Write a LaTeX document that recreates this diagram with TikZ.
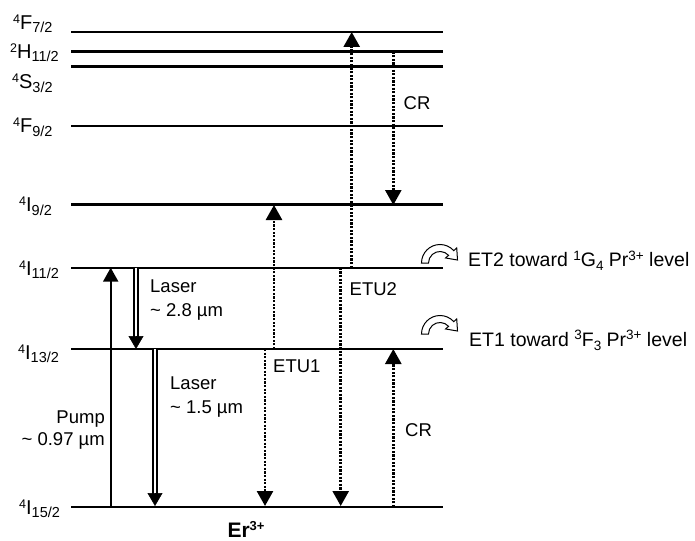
\documentclass[tikz,border=0pt]{standalone}
\usepackage{fontspec}
\setmainfont{Liberation Sans}
\usetikzlibrary{arrows.meta,calc}
\newcommand{\lvl}[3]{{\fontsize{20}{24}\selectfont\raisebox{6pt}{\fontsize{12.5}{12}\selectfont #1}#2\raisebox{-3.5pt}{\fontsize{14.5}{14}\selectfont #3}}}
\newcommand{\mysup}[1]{\raisebox{6.5pt}{\fontsize{13.5}{13}\selectfont #1}}
\newcommand{\mysub}[1]{\raisebox{-4pt}{\fontsize{13.5}{13}\selectfont #1}}
\begin{document}
\begin{tikzpicture}[x=1pt,y=-1pt,
  every node/.style={font=\fontsize{18.5}{22}\selectfont, inner sep=0pt},
  lvline/.style={line width=2.4pt},
  solidarr/.style={line width=2.2pt, -{Triangle[length=14pt,width=15pt]}},
  dotarr/.style={line width=2.6pt, dash pattern=on 2.2pt off 1.4pt, -{Triangle[length=15pt,width=16pt]}},
  dblshaft/.style={line width=1.5pt, double, double distance=2.2pt, shorten >=11pt},
  dbltip/.style={line width=0.5pt, -{Triangle[length=13pt,width=15pt]}},
  lvlabel/.style={anchor=base west},
  txt/.style={anchor=base west},
  ettxt/.style={anchor=base west, font=\fontsize{19.5}{22}\selectfont},
  hollowarc/.pic={
    \draw[line width=1pt, fill=white, line join=miter]
      (180:18.5) arc[start angle=180, end angle=318, radius=18.5]
      -- (318:22.5) -- ($(318:15)+(48:9.5)$) -- (318:7.5) -- (318:11.5)
      arc[start angle=318, end angle=180, radius=11.5] -- cycle;
  }]
\useasboundingbox (0,0) rectangle (695,540);

% levels
\foreach \n/\y in {F72/32, H112/51.7, S32/66.7, F92/126, I92/204.5, I112/267.7, I132/349, I152/507}{
  \coordinate (\n l) at (71,\y);
  \coordinate (\n r) at (443,\y);
  \draw[lvline] (\n l) -- (\n r);
}

% level labels
\node[lvlabel] (lF72) at (13,29.3) {\lvl{4}{F}{7/2}};
\node[lvlabel] (lH112) at (10,58.3) {\lvl{2}{H}{11/2}};
\node[lvlabel] (lS32) at (12,89) {\lvl{4}{S}{3/2}};
\node[lvlabel] (lF92) at (13,133) {\lvl{4}{F}{9/2}};
\node[lvlabel] (lI92) at (19,211.5) {\lvl{4}{I}{9/2}};
\node[lvlabel] (lI112) at (19,275) {\lvl{4}{I}{11/2}};
\node[lvlabel] (lI132) at (18,359) {\lvl{4}{I}{13/2}};
\node[lvlabel] (lI152) at (19,514) {\lvl{4}{I}{15/2}};

% arrow end points
\coordinate (pumpS) at (110.7,507);
\coordinate (pumpE) at (110.7,267.7);
\coordinate (las1S) at (136,267.7);
\coordinate (las1E) at (136,349);
\coordinate (las2S) at (155,349);
\coordinate (las2E) at (155,506);
\coordinate (etu1uS) at (274,349);
\coordinate (etu1uE) at (274,205);
\coordinate (etu1dS) at (265,349);
\coordinate (etu1dE) at (265,506);
\coordinate (etu2uS) at (351.7,267.7);
\coordinate (etu2uE) at (351.7,32);
\coordinate (etu2dS) at (340.7,267.7);
\coordinate (etu2dE) at (340.7,506);
\coordinate (cr1S) at (393.3,51.7);
\coordinate (cr1E) at (393.3,205);
\coordinate (cr2S) at (393.3,507);
\coordinate (cr2E) at (393.3,349);

% pump
\draw[solidarr] (pumpS) -- (pumpE);
% lasers (double shafts)
\draw[dblshaft] (las1S) -- (las1E);
\draw[dbltip] ($(las1E)+(0,-13)$) -- (las1E);
\draw[dblshaft] (las2S) -- (las2E);
\draw[dbltip] ($(las2E)+(0,-13)$) -- (las2E);
% dotted transitions
\draw[dotarr] (etu1uS) -- (etu1uE);
\draw[dotarr] (etu1dS) -- (etu1dE);
\draw[dotarr] (etu2uS) -- (etu2uE);
\draw[dotarr] (etu2dS) -- (etu2dE);
\draw[dotarr] (cr1S) -- (cr1E);
\draw[dotarr] (cr2S) -- (cr2E);

% texts
\node[txt] (laser1a) at (150,292.7) {Laser};
\node[txt] (laser1b) at (150,316.2) {\textasciitilde{} 2.8 µm};
\node[txt] (laser2a) at (170,389.5) {Laser};
\node[txt] (laser2b) at (170,413) {\textasciitilde{} 1.5 µm};
\node[anchor=base east] (pumpa) at (105,423) {Pump};
\node[anchor=base east] (pumpb) at (105,445.5) {\textasciitilde{} 0.97 µm};
\node[txt] (etu1) at (273,372.5) {ETU1};
\node[txt] (etu2) at (349.5,295) {ETU2};
\node[txt] (cr1) at (403.5,110) {CR};
\node[txt] (cr2) at (405,436) {CR};
\node[anchor=base, font=\fontsize{21}{24}\selectfont\bfseries] (er) at (246,537) {Er\raisebox{7pt}{\fontsize{13}{13}\selectfont\bfseries 3+}};

% energy transfer arrows and labels
\pic at (440,263) {hollowarc};
\pic at (440,334) {hollowarc};
\node[ettxt] (et2) at (468,266.7) {ET2 toward \mysup{1}G\mysub{4} Pr\mysup{3+} level};
\node[ettxt] (et1) at (469,346) {ET1 toward \mysup{3}F\mysub{3} Pr\mysup{3+} level};
\end{tikzpicture}
\end{document}
